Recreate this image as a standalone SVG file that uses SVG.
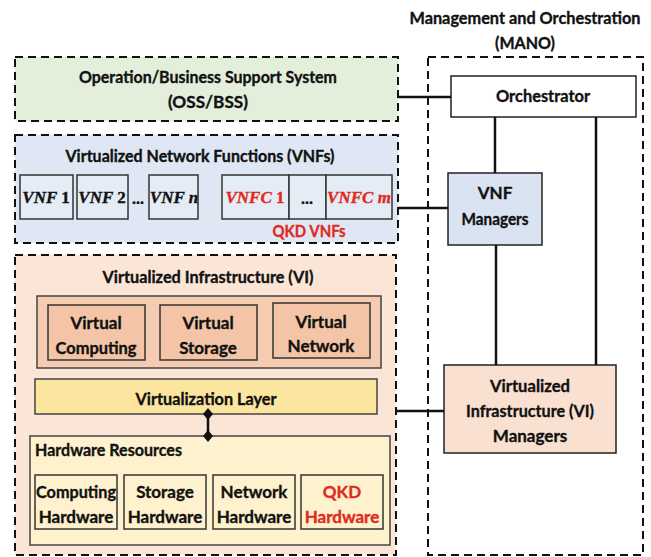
<svg xmlns="http://www.w3.org/2000/svg" width="651" height="557" viewBox="0 0 651 557">
<style>
text{font-family:Lato,"Liberation Sans",sans-serif;font-weight:bold;font-size:17px;fill:#111;text-anchor:middle;stroke:#111;stroke-width:0.35}
.red{fill:#e02a20;stroke:#e02a20}
.m{font-family:"Liberation Serif",serif;font-style:italic;font-size:17px}
.up{font-style:normal}
.dash{fill:none;stroke:#111;stroke-width:2;stroke-dasharray:8,5}
.box{stroke:#333;stroke-width:1.5}
.conn{stroke:#111;stroke-width:2.5;fill:none}
</style>
<rect width="651" height="557" fill="#fff"/>

<g id="mano">
<rect x="428" y="57" width="215" height="498" class="dash"/>
<text x="525" y="24" textLength="231" lengthAdjust="spacingAndGlyphs">Management and Orchestration</text>
<text x="525" y="49" textLength="60" lengthAdjust="spacingAndGlyphs">(MANO)</text>
</g>

<g id="oss">
<rect x="15" y="57" width="383" height="64" fill="#e3eedb"/>
<rect x="15" y="57" width="383" height="64" class="dash"/>
<text x="208" y="83" textLength="258" lengthAdjust="spacingAndGlyphs">Operation/Business Support System</text>
<text x="208" y="108" textLength="80" lengthAdjust="spacingAndGlyphs">(OSS/BSS)</text>
</g>

<g id="orchestrator">
<rect x="451" y="76" width="185" height="41" fill="#fff" stroke="#222" stroke-width="1.5"/>
<text x="543" y="102" textLength="94" lengthAdjust="spacingAndGlyphs">Orchestrator</text>
</g>

<g id="vnfs">
<rect x="15" y="135" width="383" height="108" fill="#dee7f3"/>
<rect x="15" y="135" width="383" height="108" class="dash"/>
<text x="200" y="162" textLength="269" lengthAdjust="spacingAndGlyphs">Virtualized Network Functions (VNFs)</text>
<rect x="20" y="175" width="53" height="44" fill="#e4ecf6" class="box"/>
<text x="46" y="203" class="m">VNF <tspan class="up">1</tspan></text>
<rect x="77" y="175" width="51" height="44" fill="#e4ecf6" class="box"/>
<text x="102" y="203" class="m">VNF <tspan class="up">2</tspan></text>
<text x="138" y="204">...</text>
<rect x="149" y="175" width="49" height="44" fill="#e4ecf6" class="box"/>
<text x="174" y="203" class="m">VNF n</text>
<rect x="222" y="175" width="67" height="44" fill="#e4ecf6" class="box"/>
<text x="255" y="203" class="m red">VNFC <tspan class="up">1</tspan></text>
<rect x="289" y="175" width="37" height="44" fill="#e4ecf6" class="box"/>
<text x="307" y="204">...</text>
<rect x="326" y="175" width="66" height="44" fill="#e4ecf6" class="box"/>
<text x="359" y="203" class="m red">VNFC m</text>
<text x="309" y="237" class="red" textLength="73" lengthAdjust="spacingAndGlyphs">QKD VNFs</text>
</g>

<g id="vnf-managers">
<rect x="448" y="173" width="94" height="72" fill="#dae3f1" stroke="#222" stroke-width="1.5"/>
<text x="495" y="199">VNF</text>
<text x="495" y="225" textLength="67" lengthAdjust="spacingAndGlyphs">Managers</text>
</g>

<g id="vi">
<rect x="15" y="255" width="381" height="300" fill="#fbe5d6"/>
<rect x="15" y="255" width="381" height="300" class="dash"/>
<text x="208" y="283" textLength="211" lengthAdjust="spacingAndGlyphs">Virtualized Infrastructure (VI)</text>
<rect x="37" y="296" width="344" height="72" fill="#f5ccb2" stroke="#444" stroke-width="1.5"/>
</g>

<g id="virtual-computing">
<rect x="48" y="305" width="97" height="55" fill="#f4c4a6" class="box"/>
<text x="96" y="329">Virtual</text>
<text x="96" y="354" textLength="81" lengthAdjust="spacingAndGlyphs">Computing</text>
</g>
<g id="virtual-storage">
<rect x="160" y="305" width="97" height="55" fill="#f4c4a6" class="box"/>
<text x="208" y="329">Virtual</text>
<text x="208" y="354">Storage</text>
</g>
<g id="virtual-network">
<rect x="273" y="303" width="97" height="55" fill="#f4c4a6" class="box"/>
<text x="321" y="328">Virtual</text>
<text x="321" y="352">Network</text>
</g>

<g id="virtualization-layer">
<rect x="35" y="379" width="342" height="35" fill="#fce59e" stroke="#444" stroke-width="1.5"/>
<text x="206" y="405" textLength="141" lengthAdjust="spacingAndGlyphs">Virtualization Layer</text>
</g>

<g id="hardware-resources">
<rect x="30" y="436" width="360" height="109" fill="#fdf2cd" stroke="#444" stroke-width="1.5"/>
<text x="35" y="456" style="text-anchor:start" textLength="147" lengthAdjust="spacingAndGlyphs">Hardware Resources</text>
</g>
<g id="computing-hardware">
<rect x="35" y="475" width="82" height="54" fill="#fdf2cd" class="box"/>
<text x="76" y="498" textLength="80" lengthAdjust="spacingAndGlyphs">Computing</text>
<text x="76" y="523">Hardware</text>
</g>
<g id="storage-hardware">
<rect x="124" y="475" width="82" height="54" fill="#fdf2cd" class="box"/>
<text x="165" y="498">Storage</text>
<text x="165" y="523">Hardware</text>
</g>
<g id="network-hardware">
<rect x="213" y="475" width="82" height="54" fill="#fdf2cd" class="box"/>
<text x="254" y="498">Network</text>
<text x="254" y="523">Hardware</text>
</g>
<g id="qkd-hardware">
<rect x="301" y="475" width="82" height="54" fill="#fdf2cd" class="box"/>
<text x="342" y="498" class="red">QKD</text>
<text x="342" y="523" class="red">Hardware</text>
</g>

<g id="vi-managers">
<rect x="444" y="365" width="172" height="88" fill="#f9e0d0" stroke="#222" stroke-width="1.5"/>
<text x="530" y="392" textLength="80" lengthAdjust="spacingAndGlyphs">Virtualized</text>
<text x="530" y="417" textLength="128" lengthAdjust="spacingAndGlyphs">Infrastructure (VI)</text>
<text x="530" y="442">Managers</text>
</g>

<g id="connectors">
<line x1="398" y1="97" x2="451" y2="97" class="conn"/>
<line x1="398" y1="208" x2="448" y2="208" class="conn"/>
<line x1="396" y1="411" x2="444" y2="411" class="conn"/>
<line x1="495" y1="117" x2="495" y2="173" class="conn"/>
<line x1="496" y1="245" x2="496" y2="365" class="conn"/>
<line x1="596" y1="117" x2="596" y2="365" class="conn"/>
<line x1="208" y1="414" x2="208" y2="436" class="conn"/>
<path d="M208 408 L213 414 L208 420 L203 414 Z" fill="#111"/>
<path d="M208 430 L213 436 L208 442 L203 436 Z" fill="#111"/>
</g>
</svg>
